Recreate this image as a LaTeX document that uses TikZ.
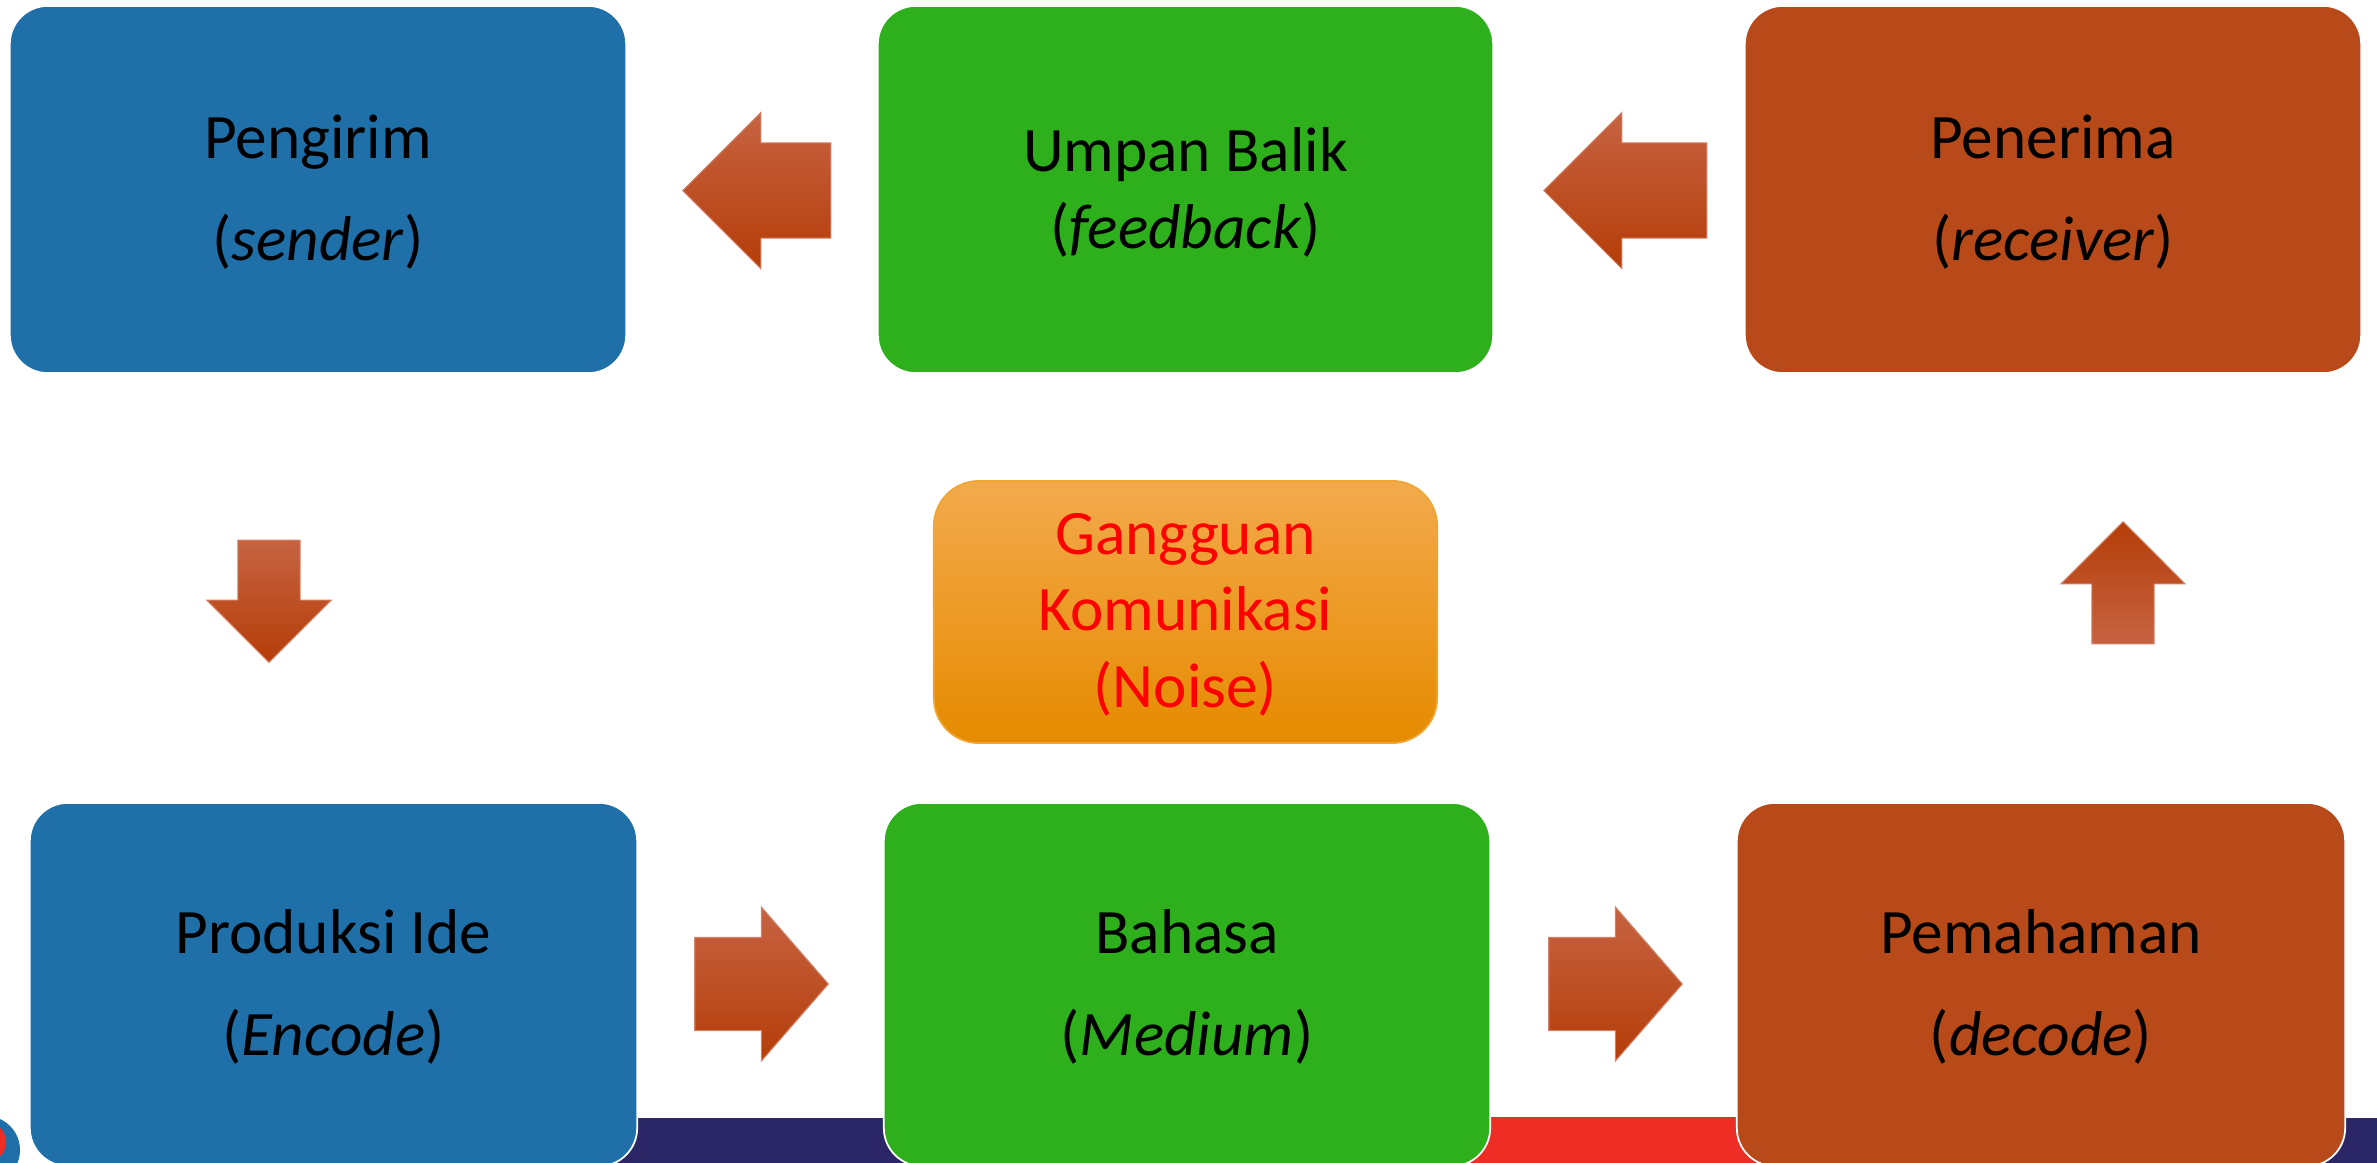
\documentclass[tikz,border=0pt]{standalone}
\usepackage{fontspec}
\setmainfont{Carlito}
\usetikzlibrary{shapes.arrows}
\definecolor{sendblue}{RGB}{31,111,169}
\definecolor{fbgreen}{RGB}{46,176,29}
\definecolor{recvbrown}{RGB}{183,74,24}
\definecolor{arrowtop}{RGB}{198,99,66}
\definecolor{arrowbot}{RGB}{181,61,8}
\definecolor{noisetop}{RGB}{243,170,76}
\definecolor{noisemid}{RGB}{248,158,16}
\definecolor{noisebot}{RGB}{230,139,0}
\definecolor{noiseedge}{RGB}{240,165,50}
\definecolor{bandnavy}{RGB}{43,38,102}
\definecolor{bandred}{RGB}{238,46,36}
\tikzset{
  stage/.style={draw=white, line width=0.5pt, rounded corners=0.38cm, inner sep=0pt,
    align=center, text=black, text depth=1pt, font=\fontsize{18pt}{29pt}\selectfont},
  tightlines/.style={font=\fontsize{18pt}{21.8pt}\selectfont},
  blockarrow/.style={single arrow, draw=arrowtop!80!white, line width=0.3pt,
    top color=arrowtop, bottom color=arrowbot, anchor=tip},
  bigarrow/.style={blockarrow, inner sep=0.47cm, single arrow head extend=0.305cm},
  smallarrow/.style={blockarrow, inner sep=0.305cm, single arrow head extend=0.31cm,
    minimum height=1.22cm}
}
% two-line label: name, then the English term in italics
\def\lbl(#1,#2){#1\\(\textit{#2})}
\begin{document}
\begin{tikzpicture}[x=0.01cm,y=-0.01cm]
\useasboundingbox (0,0) rectangle (2377,1163);
\clip (0,0) rectangle (2377,1163);
% footer band of the slide
\fill[bandnavy] (600,1118) rectangle (1300,1170);
\fill[bandred] (1300,1117) rectangle (2300,1170);
\fill[bandnavy] (2300,1118) rectangle (2377,1170);
\fill[sendblue] (-14,1150) circle (34);
\fill[bandred] (-14,1142) circle (20);
% top row
\node[stage, fill=sendblue, minimum width=6.16cm, minimum height=3.67cm] (send) at (318,189.5) {\lbl(Pengirim,sender)};
\node[stage, tightlines, fill=fbgreen, minimum width=6.15cm, minimum height=3.67cm] (feed) at (1185.5,189.5) {\lbl(Umpan Balik,feedback)};
\node[stage, fill=recvbrown, minimum width=6.16cm, minimum height=3.67cm] (recv) at (2053,189.5) {\lbl(Penerima,receiver)};
% bottom row
\node[stage, fill=sendblue, minimum width=6.07cm, minimum height=3.63cm] (enc) at (333.5,984.5) {\lbl(Produksi Ide,Encode)};
\node[stage, fill=fbgreen, minimum width=6.06cm, minimum height=3.63cm] (med) at (1187,984.5) {\lbl(Bahasa,Medium)};
\node[stage, fill=recvbrown, minimum width=6.08cm, minimum height=3.63cm] (dec) at (2041,984.5) {\lbl(Pemahaman,decode)};
% noise in the middle
\node[draw=noiseedge, line width=0.5pt, rounded corners=0.45cm, top color=noisetop, middle color=noisemid, bottom color=noisebot,
  minimum width=5.03cm, minimum height=2.62cm, inner sep=0pt, align=center, text=red, text depth=1pt,
  font=\fontsize{18pt}{21.8pt}\selectfont] (noise) at (1185.5,612) {Gangguan\\Komunikasi\\(Noise)};
% block arrows
\node[bigarrow, shape border rotate=180, minimum height=1.48cm] (fb2s) at (682,190.5) {};
\node[bigarrow, shape border rotate=180, minimum height=1.63cm] (rc2fb) at (1543,190.5) {};
\node[smallarrow, shape border rotate=270] (s2enc) at (269,663) {};
\node[smallarrow, shape border rotate=90, top color=arrowbot, bottom color=arrowtop] (dec2rc) at (2123,521) {};
\node[bigarrow, inner sep=0.46cm, minimum height=1.30cm, single arrow tip angle=98] (enc2med) at (829,984) {};
\node[bigarrow, inner sep=0.46cm, minimum height=1.31cm, single arrow tip angle=98] (med2dec) at (1683,984) {};
\end{tikzpicture}
\end{document}
